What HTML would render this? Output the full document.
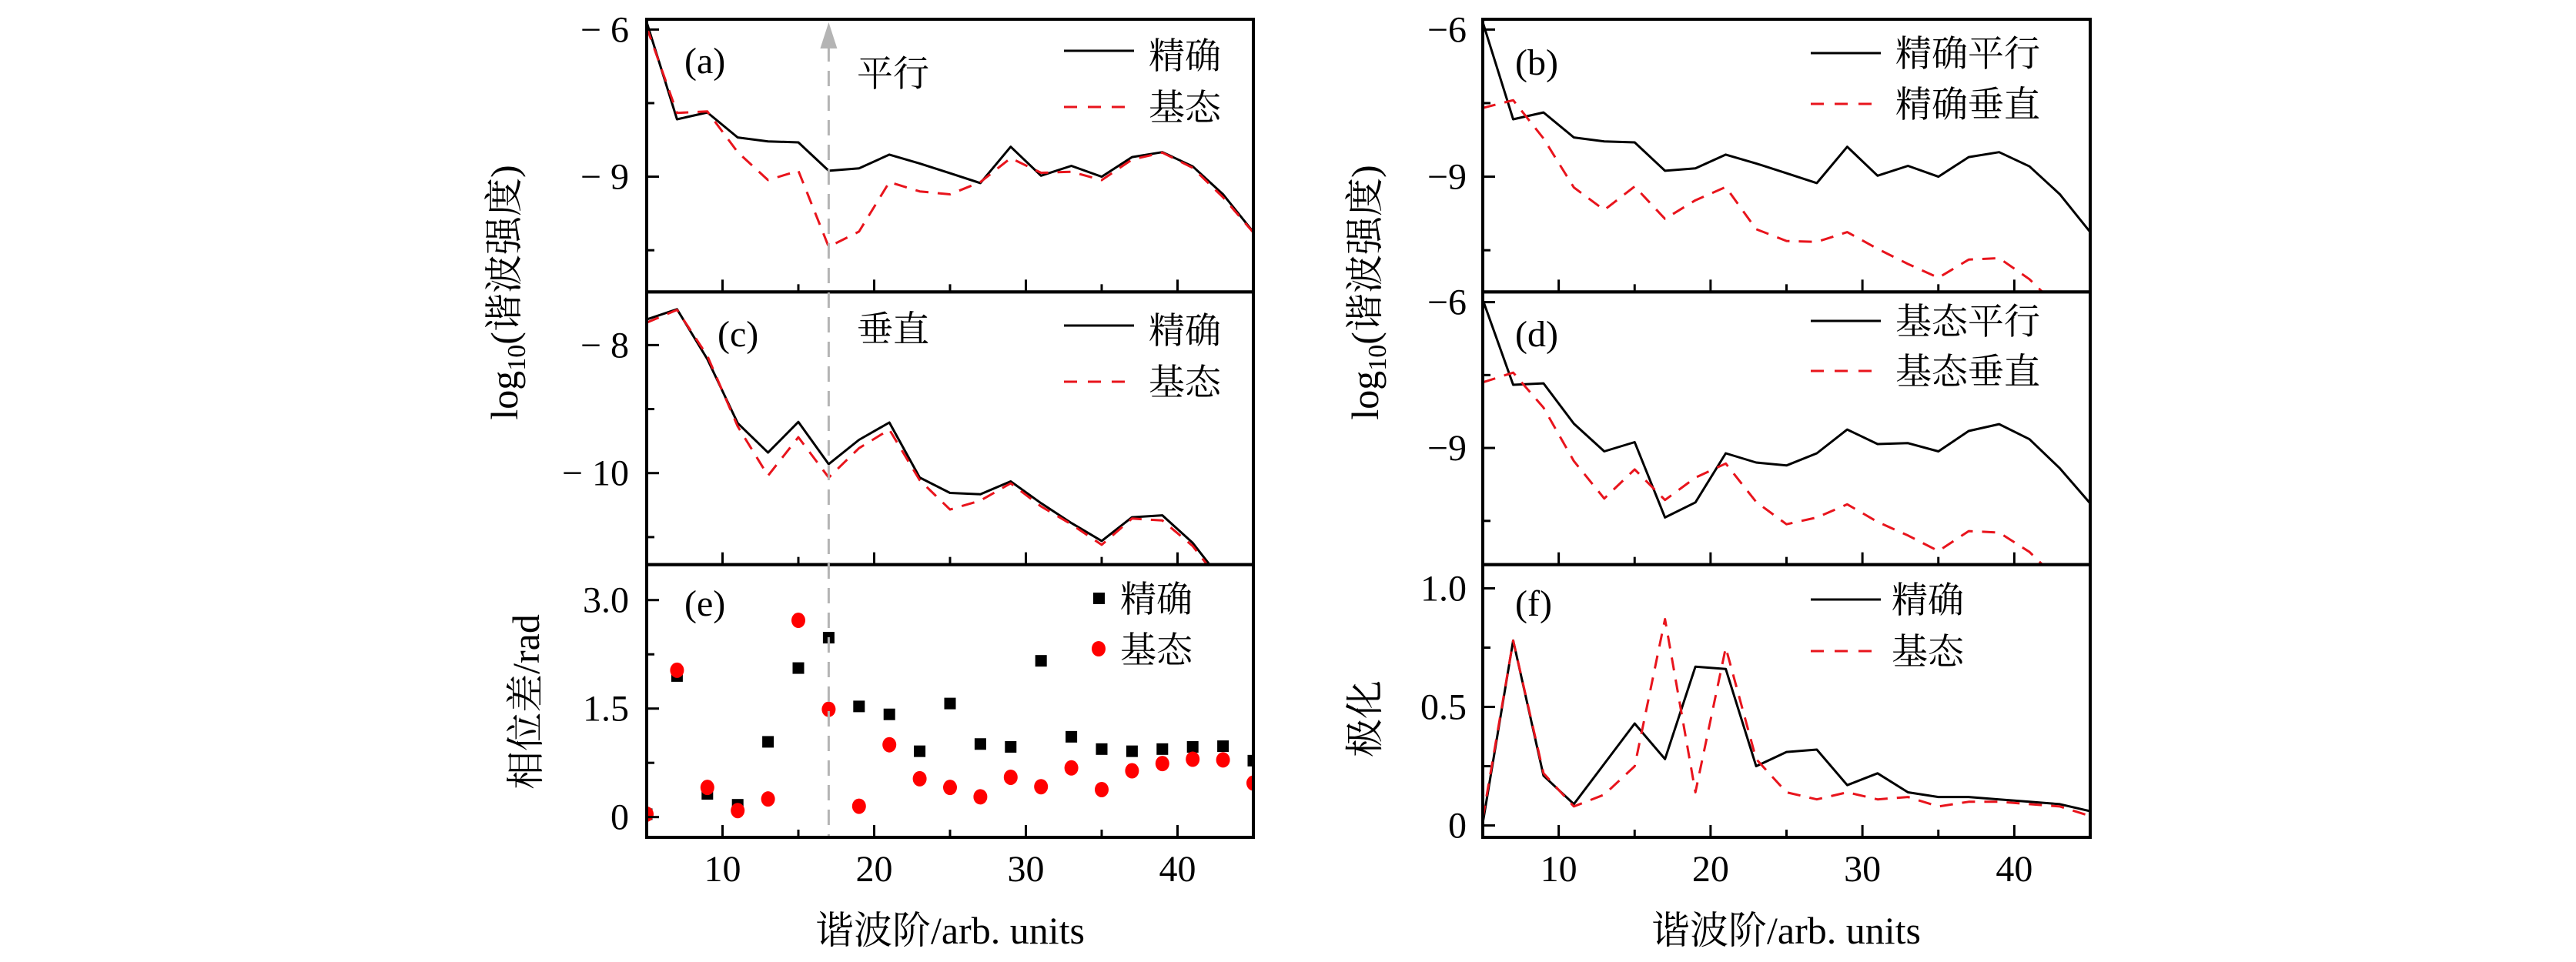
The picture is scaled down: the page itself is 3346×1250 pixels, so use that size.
<!DOCTYPE html>
<html><head><meta charset="utf-8">
<style>
html,body{margin:0;padding:0;background:#fff;}
svg{display:block;}
.tk{font-family:"Liberation Serif","Noto Serif CJK SC",serif;font-size:48px;fill:#000;}
.cj{font-family:"Liberation Serif","Noto Serif CJK SC",serif;font-size:47px;fill:#000;}
.ax{font-family:"Liberation Serif","Noto Serif CJK SC",serif;font-size:50px;fill:#000;}
</style></head>
<body>
<svg id="fig" width="3346" height="1250" viewBox="0 0 3346 1250" xmlns="http://www.w3.org/2000/svg"></svg>
<script>
// ---- data ----
const harmonics=[5,7,9,11,13,15,17,19,21,23,25,27,29,31,33,35,37,39,41,43,45];
const exactPar=[-5.85,-7.83,-7.69,-8.2,-8.28,-8.3,-8.88,-8.83,-8.55,-8.73,-8.93,-9.13,-8.39,-8.98,-8.78,-9.0,-8.6,-8.5,-8.79,-9.36,-10.13];
const groundPar=[-5.95,-7.7,-7.67,-8.5,-9.07,-8.88,-10.43,-10.12,-9.11,-9.3,-9.36,-9.11,-8.62,-8.92,-8.9,-9.07,-8.65,-8.51,-8.82,-9.42,-10.14];
const exactPerp=[-7.6,-7.44,-8.22,-9.22,-9.68,-9.2,-9.86,-9.48,-9.21,-10.07,-10.31,-10.33,-10.13,-10.47,-10.78,-11.06,-10.69,-10.66,-11.09,-11.7,-12.5];
const groundPerp=[-7.65,-7.45,-8.17,-9.27,-10.04,-9.44,-10.07,-9.61,-9.32,-10.11,-10.57,-10.43,-10.16,-10.52,-10.8,-11.12,-10.71,-10.74,-11.14,-11.75,-12.5];
const phaseExact=[0.04,1.95,0.32,0.17,1.04,2.06,2.48,1.53,1.42,0.91,1.57,1.01,0.97,2.16,1.11,0.94,0.91,0.94,0.97,0.98,0.78];
const phaseGround=[0.04,2.03,0.41,0.09,0.25,2.72,1.49,0.15,1.0,0.53,0.41,0.28,0.55,0.42,0.68,0.38,0.64,0.74,0.8,0.79,0.47];
const polExact=[0.01,0.78,0.21,0.09,0.26,0.43,0.28,0.67,0.66,0.25,0.31,0.32,0.17,0.22,0.14,0.12,0.12,0.11,0.1,0.09,0.06];
const polGround=[0.03,0.78,0.22,0.08,0.13,0.25,0.87,0.14,0.75,0.28,0.14,0.11,0.14,0.11,0.12,0.08,0.1,0.1,0.09,0.08,0.04];
const xTicks=[10,20,30,40];
const xMinor=[15,25,35];

const NS="http://www.w3.org/2000/svg";
const svg=document.getElementById('fig');
function el(tag,attrs,parent){const e=document.createElementNS(NS,tag);for(const k in attrs)e.setAttribute(k,attrs[k]);(parent||svg).appendChild(e);return e;}

const T=25,B=1088,H=(B-T)/3;
const rows=[T,T+H,T+2*H];
const cols=[[840,1628],[1926,2715]];
const xDom=[5,45];

function makePanel(id,col,row,yDom,majors,minors,labFmt,labX){
  const x0=cols[col][0],x1=cols[col][1],y0=rows[row],y1=rows[row]+H;
  const g=el('g',{});
  
  
  const xs=v=>x0+(v-xDom[0])/(xDom[1]-xDom[0])*(x1-x0);
  const ys=v=>y0+(yDom[1]-v)/(yDom[1]-yDom[0])*(y1-y0);
  const cp=el('clipPath',{id:'clip-'+id},g);
  el('rect',{x:x0,y:y0,width:x1-x0,height:y1-y0},cp);
  const data=el('g',{'clip-path':'url(#clip-'+id+')'},g);
  majors.forEach(v=>{
    const yy=ys(v);
    const t=el('line',{x1:x0,x2:x0+16,y1:yy,y2:yy,stroke:'#000','stroke-width':3},g);
    
    
    const tx=el('text',{x:labX,y:yy+16,'text-anchor':'end',class:'tk'},g);
    tx.textContent=labFmt(v);
    
    
  });
  minors.forEach(v=>{const yy=ys(v);el('line',{x1:x0,x2:x0+10,y1:yy,y2:yy,stroke:'#000','stroke-width':3},g);});
  xTicks.forEach(v=>{const xx=xs(v);el('line',{x1:xx,x2:xx,y1:y1,y2:y1-16,stroke:'#000','stroke-width':3},g);});
  xMinor.forEach(v=>{const xx=xs(v);el('line',{x1:xx,x2:xx,y1:y1,y2:y1-10,stroke:'#000','stroke-width':3},g);});
  return {g,data,xs,ys,x0,x1,y0,y1};
}
function line(p,vals,dashed,name){
  const pts=harmonics.map((h,i)=>p.xs(h).toFixed(1)+','+p.ys(vals[i]).toFixed(1)).join(' ');
  const a={points:pts,fill:'none',stroke:dashed?'#e8141c':'#000','stroke-width':3,'stroke-linejoin':'round'};
  if(dashed)a['stroke-dasharray']='17,12';
  const l=el('polyline',a,p.data);
  
  
}
function frame(p){el('rect',{x:p.x0,y:p.y0,width:p.x1-p.x0,height:p.y1-p.y0,fill:'none',stroke:'#000','stroke-width':4},p.g);}
function txt(x,y,s,cls,name,anchor){const t=el('text',{x:x,y:y,class:cls,'text-anchor':anchor||'start'});t.textContent=s;return t;}
function legendLine(x1,x2,y,dashed,name){const a={x1:x1,x2:x2,y1:y,y2:y,stroke:dashed?'#e8141c':'#000','stroke-width':3};if(dashed)a['stroke-dasharray']='17,14';const l=el('line',a);}
const negL=v=>v<0?'\u2212 '+Math.abs(v):''+v;
const negR=v=>v<0?'\u2212'+Math.abs(v):''+v;

const pa=makePanel('a',0,0,[-11.35,-5.79],[-6,-9],[-7.5,-10.5],negL,817);
line(pa,exactPar,false,'a-exact-line');line(pa,groundPar,true,'a-ground-line');frame(pa);
const pc=makePanel('c',0,1,[-11.43,-7.17],[-8,-10],[-9,-11],negL,817);
line(pc,exactPerp,false,'c-exact-line');line(pc,groundPerp,true,'c-ground-line');frame(pc);
const pe=makePanel('e',0,2,[-0.28,3.49],[0,1.5,3.0],[0.75,2.25],v=>v===0?'0':v.toFixed(1),817);
harmonics.forEach((h,i)=>{
  const s=el('rect',{x:pe.xs(h)-7.5,y:pe.ys(phaseExact[i])-7.5,width:15,height:15,fill:'#000'},pe.data);
  
  
});
harmonics.forEach((h,i)=>{
  const c=el('ellipse',{cx:pe.xs(h),cy:pe.ys(phaseGround[i]),rx:9,ry:10,fill:'#ff0000'},pe.data);
  
  
});
frame(pe);
const pb=makePanel('b',1,0,[-11.35,-5.79],[-6,-9],[-7.5,-10.5],negR,1905);
line(pb,exactPar,false,'b-exact-par-line');line(pb,exactPerp,true,'b-exact-perp-line');frame(pb);
const pd=makePanel('d',1,1,[-11.4,-5.79],[-6,-9],[-7.5,-10.5],negR,1905);
line(pd,groundPar,false,'d-ground-par-line');line(pd,groundPerp,true,'d-ground-perp-line');frame(pd);
const pf=makePanel('f',1,2,[-0.05,1.1],[0,0.5,1.0],[0.25,0.75],v=>v===0?'0':v.toFixed(1),1905);
line(pf,polExact,false,'f-exact-line');line(pf,polGround,true,'f-ground-line');frame(pf);

[pe,pf].forEach((p,k)=>xTicks.forEach(v=>{txt(p.xs(v),1145,''+v,'tk',k?'f-x-tick-label':'e-x-tick-label','middle');}));

const gx=pa.xs(17);
const gl=el('line',{x1:gx,x2:gx,y1:60,y2:1086,stroke:'#b4b4b4','stroke-width':3,'stroke-dasharray':'20,12'});


const ar=el('polygon',{points:`${gx},29 ${gx-11},63 ${gx+11},63`,fill:'#b4b4b4'});



txt(889,95,'(a)','tk','panel-label-a');
txt(932,450,'(c)','tk','panel-label-c');
txt(889,800,'(e)','tk','panel-label-e');
txt(1968,97,'(b)','tk','panel-label-b');
txt(1968,450,'(d)','tk','panel-label-d');
txt(1968,800,'(f)','tk','panel-label-f');
txt(1113,112,'平行','cj','parallel-annotation');
txt(1113,444,'垂直','cj','perpendicular-annotation');

legendLine(1382,1473,66,false,'a-legend-exact-line');txt(1492,89,'精确','cj','a-legend-exact');
legendLine(1382,1473,139,true,'a-legend-ground-line');txt(1492,156,'基态','cj','a-legend-ground');
legendLine(1382,1473,423,false,'c-legend-exact-line');txt(1492,446,'精确','cj','c-legend-exact');
legendLine(1382,1473,496,true,'c-legend-ground-line');txt(1492,513,'基态','cj','c-legend-ground');
el('rect',{x:1420,y:770,width:15,height:15,fill:'#000'});
txt(1455,795,'精确','cj','e-legend-exact');
el('ellipse',{cx:1427,cy:843,rx:9,ry:10,fill:'#ff0000'});
txt(1455,861,'基态','cj','e-legend-ground');
legendLine(2352,2443,69,false,'b-legend-par-line');txt(2462,86,'精确平行','cj','b-legend-par');
legendLine(2352,2443,135,true,'b-legend-perp-line');txt(2462,152,'精确垂直','cj','b-legend-perp');
legendLine(2352,2443,417,false,'d-legend-par-line');txt(2462,434,'基态平行','cj','d-legend-par');
legendLine(2352,2443,482,true,'d-legend-perp-line');txt(2462,499,'基态垂直','cj','d-legend-perp');
legendLine(2352,2443,779,false,'f-legend-exact-line');txt(2457,796,'精确','cj','f-legend-exact');
legendLine(2352,2443,846,true,'f-legend-ground-line');txt(2457,863,'基态','cj','f-legend-ground');

const yl1=txt(0,0,'','ax','left-y-axis-title','middle');
yl1.setAttribute('transform','translate(672,380) rotate(-90)');
yl1.innerHTML='log<tspan font-size="34" dy="10">10</tspan><tspan dy="-10">(谐波强度)</tspan>';
const yl2=txt(0,0,'相位差/rad','ax','phase-y-axis-title','middle');
yl2.setAttribute('transform','translate(700,912) rotate(-90)');
const yl3=txt(0,0,'','ax','right-y-axis-title','middle');
yl3.setAttribute('transform','translate(1790,380) rotate(-90)');
yl3.innerHTML='log<tspan font-size="34" dy="10">10</tspan><tspan dy="-10">(谐波强度)</tspan>';
const yl4=txt(0,0,'极化','ax','polarization-y-axis-title','middle');
yl4.setAttribute('transform','translate(1790,934) rotate(-90)');
txt(1234,1226,'谐波阶/arb. units','ax','left-x-axis-title','middle');
txt(2320,1226,'谐波阶/arb. units','ax','right-x-axis-title','middle');
</script>
</body></html>
